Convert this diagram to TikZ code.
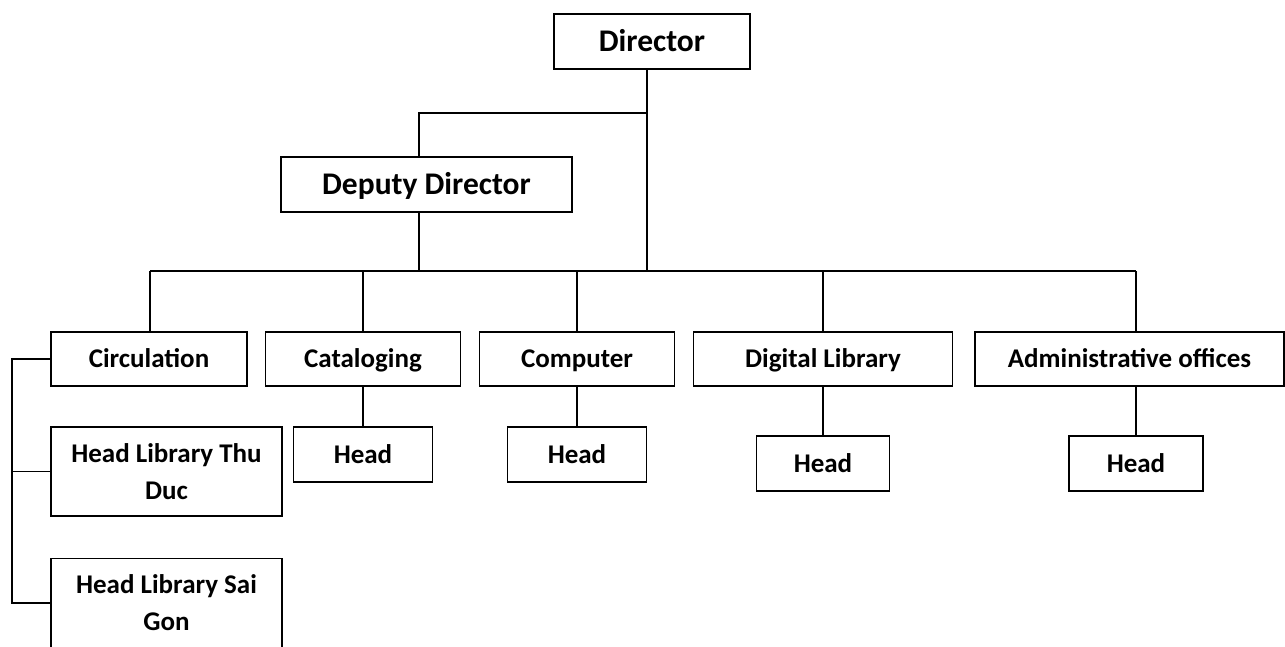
\documentclass[tikz,border=0pt]{standalone}
\usepackage{fontspec}
\setmainfont{Carlito}
\begin{document}
\begin{tikzpicture}[x=1pt,y=-1pt,
  wire/.style={line width=1.8pt},
  box/.style={draw, line width=1.8pt, inner sep=0pt, align=center,
    font=\bfseries\fontsize{27}{37}\selectfont, text height=17.4pt, text depth=0pt},
  bigbox/.style={box, font=\bfseries\fontsize{31.5}{38}\selectfont, text height=20.3pt},
  twobox/.style={draw, line width=1.8pt, inner sep=0pt, align=center,
    font=\bfseries\fontsize{27}{37}\selectfont, minimum width=231, minimum height=89}]
\useasboundingbox (0,0) rectangle (1285,646);
% top
\node[bigbox, minimum width=196, minimum height=55] (dir) at (652,41.5) {Director};
\node[bigbox, minimum width=291, minimum height=55] (dep) at (426.5,184.5) {Deputy Director};
% row 1
\node[box, minimum width=196, minimum height=54] (circ) at (149,359) {Circulation};
\node[box, minimum width=195, minimum height=54] (cat) at (363,359) {Cataloging};
\node[box, minimum width=195, minimum height=54] (comp) at (577,359) {Computer};
\node[box, minimum width=259, minimum height=54] (dig) at (823,359) {Digital Library};
\node[box, minimum width=309, minimum height=54] (adm) at (1129.5,359) {Administrative offices};
% heads
\node[box, minimum width=139, minimum height=55] (cath) at (363,454.5) {Head};
\node[box, minimum width=139, minimum height=55] (comph) at (577,454.5) {Head};
\node[box, minimum width=133, minimum height=55] (digh) at (823,463.5) {Head};
\node[box, minimum width=134, minimum height=55] (admh) at (1136,463.5) {Head};
% branches
\node[twobox] (td) at (166.5,471.5) {Head Library Thu\\Duc};
\node[twobox] (sg) at (166.5,603) {Head Library Sai\\Gon};
% junction coordinates
\coordinate (dj) at (647,113);
\coordinate (dpx) at (419,113);
\coordinate (busL) at (150,271);
\coordinate (busR) at (1136,271);
\coordinate (br) at (12,359);
% connectors
\draw[wire] (dj |- dir.south) -- (dj |- busR);
\draw[wire] (dj) -- (dpx) -- (dpx |- dep.north);
\draw[wire] (dpx |- dep.south) -- (dpx |- busL);
\draw[wire] (busL) -- (busR);
\draw[wire] (busL) -- (busL |- circ.north);
\draw[wire] (cat.north |- busL) -- (cat.north);
\draw[wire] (comp.north |- busL) -- (comp.north);
\draw[wire] (dig.north |- busL) -- (dig.north);
\draw[wire] (busR) -- (busR |- adm.north);
\draw[wire] (cat.south) -- (cath.north);
\draw[wire] (comp.south) -- (comph.north);
\draw[wire] (dig.south) -- (digh.north);
\draw[wire] (admh.north |- adm.south) -- (admh.north);
\draw[wire] (circ.west) -- (br) -- (br |- sg.west) -- (sg.west);
\draw[wire] (br |- td.west) -- (td.west);
\end{tikzpicture}
\end{document}
